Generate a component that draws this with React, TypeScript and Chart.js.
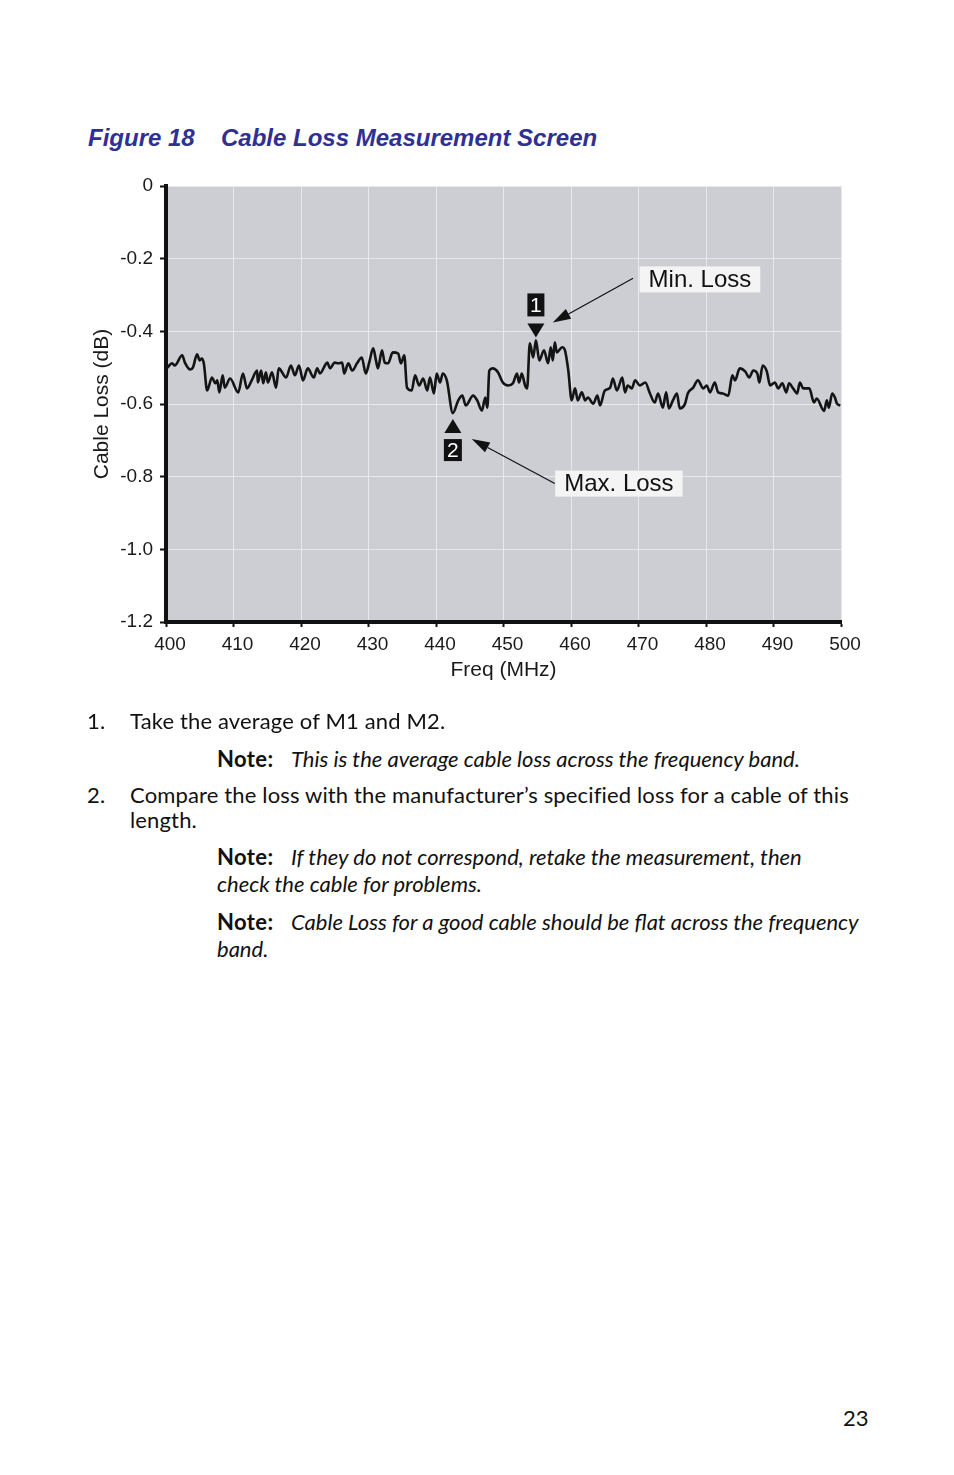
import React, { useEffect, useRef } from "react";
import { Chart, registerables } from "chart.js";

Chart.register(...registerables);

// ---------- data ----------
const freqMHz = [
  400.1, 400.9, 401.3, 402.4, 402.8, 403.6, 404.0, 404.6, 405.0, 405.3,
  405.6, 406.1, 406.8, 407.3, 407.6, 407.9, 408.4, 408.7, 409.5, 410.7,
  411.4, 412.0, 412.7, 413.5, 413.6, 414.1, 414.4, 414.8, 415.1, 415.7,
  416.3, 416.7, 417.8, 418.5, 419.1, 419.7, 420.3, 421.0, 421.9, 422.4,
  422.8, 423.9, 424.3, 425.0, 425.5, 426.1, 426.4, 427.0, 427.6, 428.3,
  429.0, 429.6, 430.1, 430.7, 431.1, 431.4, 432.0, 432.4, 432.9, 433.6,
  434.4, 434.8, 435.3, 435.7, 436.4, 436.9, 437.5, 438.1, 438.7, 439.1,
  439.7, 440.1, 440.6, 441.0, 441.6, 442.5, 443.3, 443.9, 444.4, 445.5,
  446.1, 446.8, 447.3, 447.6, 447.9, 448.4, 449.2, 449.9, 450.7, 451.4,
  452.0, 452.3, 452.7, 453.2, 453.5, 453.9, 454.4, 454.8, 455.3, 456.0,
  456.6, 457.0, 457.3, 457.6, 457.9, 458.7, 459.1, 459.6, 460.1, 460.6,
  461.0, 461.6, 462.1, 462.5, 463.3, 463.9, 464.3, 465.0, 465.8, 466.2,
  466.8, 467.6, 468.0, 468.4, 469.0, 469.5, 470.2, 471.0, 471.7, 472.4,
  472.9, 473.6, 474.1, 474.5, 475.1, 475.7, 476.1, 476.9, 477.3, 478.1,
  478.8, 479.6, 480.1, 480.6, 481.3, 481.8, 482.5, 483.3, 483.9, 484.3,
  485.0, 485.8, 486.4, 487.0, 487.6, 487.9, 488.4, 489.0, 489.5, 490.2,
  490.7, 491.3, 491.9, 492.3, 492.9, 493.5, 493.9, 494.4, 495.3, 496.0,
  496.4, 497.5, 497.9, 498.2, 498.7, 499.1, 499.4, 499.9,
];

const lossDb = [
  -0.502, -0.488, -0.494, -0.466, -0.486, -0.505, -0.499, -0.463, -0.480, -0.475,
  -0.488, -0.563, -0.527, -0.543, -0.535, -0.568, -0.521, -0.555, -0.530, -0.568,
  -0.516, -0.557, -0.535, -0.508, -0.541, -0.508, -0.543, -0.513, -0.541, -0.513,
  -0.555, -0.502, -0.527, -0.494, -0.521, -0.494, -0.535, -0.502, -0.527, -0.502,
  -0.516, -0.486, -0.502, -0.486, -0.488, -0.486, -0.516, -0.488, -0.508, -0.488,
  -0.472, -0.516, -0.486, -0.447, -0.480, -0.502, -0.452, -0.486, -0.488, -0.458,
  -0.461, -0.488, -0.466, -0.555, -0.563, -0.521, -0.549, -0.530, -0.563, -0.527,
  -0.571, -0.516, -0.541, -0.516, -0.535, -0.625, -0.590, -0.577, -0.604, -0.577,
  -0.590, -0.618, -0.582, -0.610, -0.508, -0.502, -0.513, -0.541, -0.549, -0.543,
  -0.516, -0.541, -0.516, -0.549, -0.557, -0.433, -0.472, -0.425, -0.480, -0.452,
  -0.488, -0.444, -0.480, -0.430, -0.458, -0.444, -0.452, -0.508, -0.590, -0.557,
  -0.590, -0.568, -0.590, -0.582, -0.599, -0.577, -0.604, -0.563, -0.555, -0.530,
  -0.563, -0.527, -0.568, -0.549, -0.557, -0.535, -0.549, -0.541, -0.571, -0.596,
  -0.571, -0.610, -0.568, -0.612, -0.590, -0.571, -0.612, -0.599, -0.571, -0.555,
  -0.535, -0.557, -0.549, -0.568, -0.541, -0.568, -0.571, -0.577, -0.521, -0.535,
  -0.502, -0.510, -0.527, -0.508, -0.516, -0.541, -0.494, -0.510, -0.549, -0.541,
  -0.557, -0.543, -0.568, -0.543, -0.557, -0.571, -0.541, -0.557, -0.557, -0.596,
  -0.585, -0.619, -0.590, -0.610, -0.571, -0.582, -0.599, -0.604,
];

const xTickValues = [400, 410, 420, 430, 440, 450, 460, 470, 480, 490, 500];
const yTickValues = [0, -0.2, -0.4, -0.6, -0.8, -1.0, -1.2];
const yTickLabels = ["0", "-0.2", "-0.4", "-0.6", "-0.8", "-1.0", "-1.2"];

const markerLabels = ["1", "2"]; // 1 = min loss, 2 = max loss
const calloutTexts = ["Min. Loss", "Max. Loss"];

// callout placement (data units)
const calloutConfig = [
  { freq: 479.1, loss: -0.257, fromFreq: 469.2, fromLoss: -0.254, toFreq: 457.3, toLoss: -0.376 },
  { freq: 467.1, loss: -0.819, fromFreq: 457.6, fromLoss: -0.819, toFreq: 445.3, toLoss: -0.696 },
];

const axisFont = "'Liberation Sans', Arial, Helvetica, sans-serif";
const bodyFont = "Lato, 'Open Sans', sans-serif";
const ink = "#1a1a1a";

const overlayPlugin = {
  id: "overlay",
  beforeDraw(chart: any) {
    const { ctx, chartArea: a } = chart;
    ctx.save();
    ctx.fillStyle = "#cdced3";
    ctx.fillRect(a.left, a.top, a.right - a.left, a.bottom - a.top);
    ctx.restore();
  },
  afterDatasetsDraw(chart: any) {
    const { ctx } = chart;
    const xs = chart.scales.x;
    const ys = chart.scales.y;
    let iHi = 0;
    let iLo = 0;
    for (let i = 1; i < lossDb.length; i++) {
      if (lossDb[i] > lossDb[iHi]) iHi = i;
      if (lossDb[i] < lossDb[iLo]) iLo = i;
    }
    ctx.save();
    // marker 1 (min loss) - triangle pointing down above the trace
    {
      const px = xs.getPixelForValue(freqMHz[iHi]);
      const py = ys.getPixelForValue(lossDb[iHi]);
      ctx.fillStyle = "#111";
      ctx.beginPath();
      ctx.moveTo(px - 8.5, py - 17);
      ctx.lineTo(px + 8.5, py - 17);
      ctx.lineTo(px, py - 3);
      ctx.closePath();
      ctx.fill();
      ctx.fillRect(px - 8.5, py - 47, 17, 23);
      ctx.fillStyle = "#fff";
      ctx.font = `21px ${axisFont}`;
      ctx.textAlign = "center";
      ctx.textBaseline = "middle";
      ctx.fillText(markerLabels[0], px, py - 34.5);
    }
    // marker 2 (max loss) - triangle pointing up below the trace
    {
      const px = xs.getPixelForValue(freqMHz[iLo]);
      const py = ys.getPixelForValue(lossDb[iLo]);
      ctx.fillStyle = "#111";
      ctx.beginPath();
      ctx.moveTo(px - 8.5, py + 20);
      ctx.lineTo(px + 8.5, py + 20);
      ctx.lineTo(px, py + 6);
      ctx.closePath();
      ctx.fill();
      ctx.fillRect(px - 9, py + 26, 18, 22);
      ctx.fillStyle = "#fff";
      ctx.font = `21px ${axisFont}`;
      ctx.textAlign = "center";
      ctx.textBaseline = "middle";
      ctx.fillText(markerLabels[1], px, py + 38);
    }
    // callouts
    calloutConfig.forEach((c, i) => {
      const cx = xs.getPixelForValue(c.freq);
      const cy = ys.getPixelForValue(c.loss);
      ctx.font = `24px ${axisFont}`;
      const w = ctx.measureText(calloutTexts[i]).width + 18;
      const h = 26;
      ctx.fillStyle = "#f4f4f4";
      ctx.fillRect(cx - w / 2, cy - h / 2, w, h);
      ctx.fillStyle = "#111";
      ctx.textAlign = "center";
      ctx.textBaseline = "middle";
      ctx.fillText(calloutTexts[i], cx, cy + 1);
      // arrow
      const x1 = xs.getPixelForValue(c.fromFreq);
      const y1 = ys.getPixelForValue(c.fromLoss);
      const x2 = xs.getPixelForValue(c.toFreq);
      const y2 = ys.getPixelForValue(c.toLoss);
      const ang = Math.atan2(y2 - y1, x2 - x1);
      const L = 18;
      const hw = 5.5;
      const bx = x2 - L * Math.cos(ang);
      const by = y2 - L * Math.sin(ang);
      ctx.strokeStyle = "#111";
      ctx.lineWidth = 1.2;
      ctx.beginPath();
      ctx.moveTo(x1, y1);
      ctx.lineTo(bx, by);
      ctx.stroke();
      ctx.beginPath();
      ctx.moveTo(x2, y2);
      ctx.lineTo(bx + hw * Math.sin(ang), by - hw * Math.cos(ang));
      ctx.lineTo(bx - hw * Math.sin(ang), by + hw * Math.cos(ang));
      ctx.closePath();
      ctx.fill();
    });
    ctx.restore();
  },
};

function LossChart() {
  const ref = useRef<HTMLCanvasElement | null>(null);
  useEffect(() => {
    if (!ref.current) return;
    const chart = new Chart(ref.current, {
      type: "line",
      data: {
        datasets: [
          {
            data: freqMHz.map((f, i) => ({ x: f, y: lossDb[i] })),
            borderColor: "#141414",
            borderWidth: 2.6,
            pointRadius: 0,
            cubicInterpolationMode: "monotone",
            fill: false,
          } as any,
        ],
      },
      options: {
        animation: false,
        responsive: false,
        layout: { padding: { left: 85, top: 26, right: 113, bottom: 33 } },
        plugins: { legend: { display: false }, tooltip: { enabled: false } },
        scales: {
          x: {
            type: "linear",
            min: 400,
            max: 500,
            afterBuildTicks: (s: any) => {
              s.ticks = xTickValues.map((v) => ({ value: v }));
            },
            afterFit: (s: any) => {
              s.height = 65;
            },
            grid: { color: "#e9e9ec", lineWidth: 1, tickColor: "#111", tickLength: 5, tickWidth: 2 },
            border: { color: "#111", width: 4 },
            ticks: {
              font: { family: axisFont, size: 19 },
              color: ink,
              padding: 6,
              labelOffset: 4,
              maxRotation: 0,
              autoSkip: false,
              callback: (v: any) => String(v),
            },
            title: {
              display: true,
              text: "Freq (MHz)",
              font: { family: axisFont, size: 21 },
              color: ink,
              padding: { top: 0, bottom: 4 },
            },
          },
          y: {
            type: "linear",
            min: -1.2,
            max: 0,
            afterBuildTicks: (s: any) => {
              s.ticks = yTickValues.map((v) => ({ value: v }));
            },
            afterFit: (s: any) => {
              s.width = 81;
            },
            grid: { color: "#e9e9ec", lineWidth: 1, tickColor: "#111", tickLength: 6, tickWidth: 2 },
            border: { color: "#111", width: 4 },
            ticks: {
              font: { family: axisFont, size: 19 },
              color: ink,
              padding: 7,
              autoSkip: false,
              callback: (v: any) => {
                const idx = yTickValues.findIndex((t) => Math.abs(t - Number(v)) < 1e-6);
                return idx >= 0 ? yTickLabels[idx] : "";
              },
            },
            title: {
              display: true,
              text: "Cable Loss (dB)",
              font: { family: axisFont, size: 21 },
              color: ink,
              padding: { top: 5, bottom: 0 },
            },
          },
        },
      },
      plugins: [overlayPlugin],
    });
    return () => chart.destroy();
  }, []);
  return (
    <canvas
      ref={ref}
      width={954}
      height={560}
      style={{ position: "absolute", left: 0, top: 160, width: 954, height: 560 }}
    />
  );
}

const fs = 22;
const lh = 26;

function Line(props: { left: number; cy: number; children: any; style?: any }) {
  return (
    <div
      style={{
        position: "absolute",
        left: props.left,
        top: props.cy - lh / 2 - 1,
        lineHeight: `${lh}px`,
        fontSize: fs,
        fontFamily: bodyFont,
        color: "#111",
        whiteSpace: "nowrap",
        ...(props.style || {}),
      }}
    >
      {props.children}
    </div>
  );
}

const regStyle = { letterSpacing: "0.15px" };
const noteStyle = { fontWeight: 700, letterSpacing: "0.4px" };
const itStyle = { fontStyle: "italic" };

export default function App() {
  return (
    <div style={{ position: "absolute", left: 0, top: 0, width: 954, height: 1475, background: "#fff" }}>
      <div
        style={{
          position: "absolute",
          left: 88,
          top: 126,
          lineHeight: "24px",
          fontSize: 24,
          fontFamily: axisFont,
          fontWeight: 700,
          fontStyle: "italic",
          color: "#2e3192",
          whiteSpace: "nowrap",
        }}
      >
        <span style={{ position: "absolute", left: 0 }}>Figure 18</span>
        <span style={{ position: "absolute", left: 133 }}>Cable Loss Measurement Screen</span>
      </div>
      <LossChart />
      <Line left={87} cy={722} style={regStyle}>1.</Line>
      <Line left={130} cy={722} style={regStyle}>Take the average of M1 and M2.</Line>
      <Line left={217} cy={760} style={noteStyle}>Note:</Line>
      <Line left={291} cy={760} style={itStyle}>This is the average cable loss across the frequency band.</Line>
      <Line left={87} cy={796} style={regStyle}>2.</Line>
      <Line left={130} cy={796} style={regStyle}>Compare the loss with the manufacturer’s specified loss for a cable of this</Line>
      <Line left={130} cy={821} style={regStyle}>length.</Line>
      <Line left={217} cy={858} style={noteStyle}>Note:</Line>
      <Line left={291} cy={858} style={itStyle}>If they do not correspond, retake the measurement, then</Line>
      <Line left={217} cy={885} style={itStyle}>check the cable for problems.</Line>
      <Line left={217} cy={923} style={noteStyle}>Note:</Line>
      <Line left={291} cy={923} style={itStyle}>Cable Loss for a good cable should be flat across the frequency</Line>
      <Line left={217} cy={950} style={itStyle}>band.</Line>
      <Line left={843} cy={1419}>23</Line>
    </div>
  );
}
